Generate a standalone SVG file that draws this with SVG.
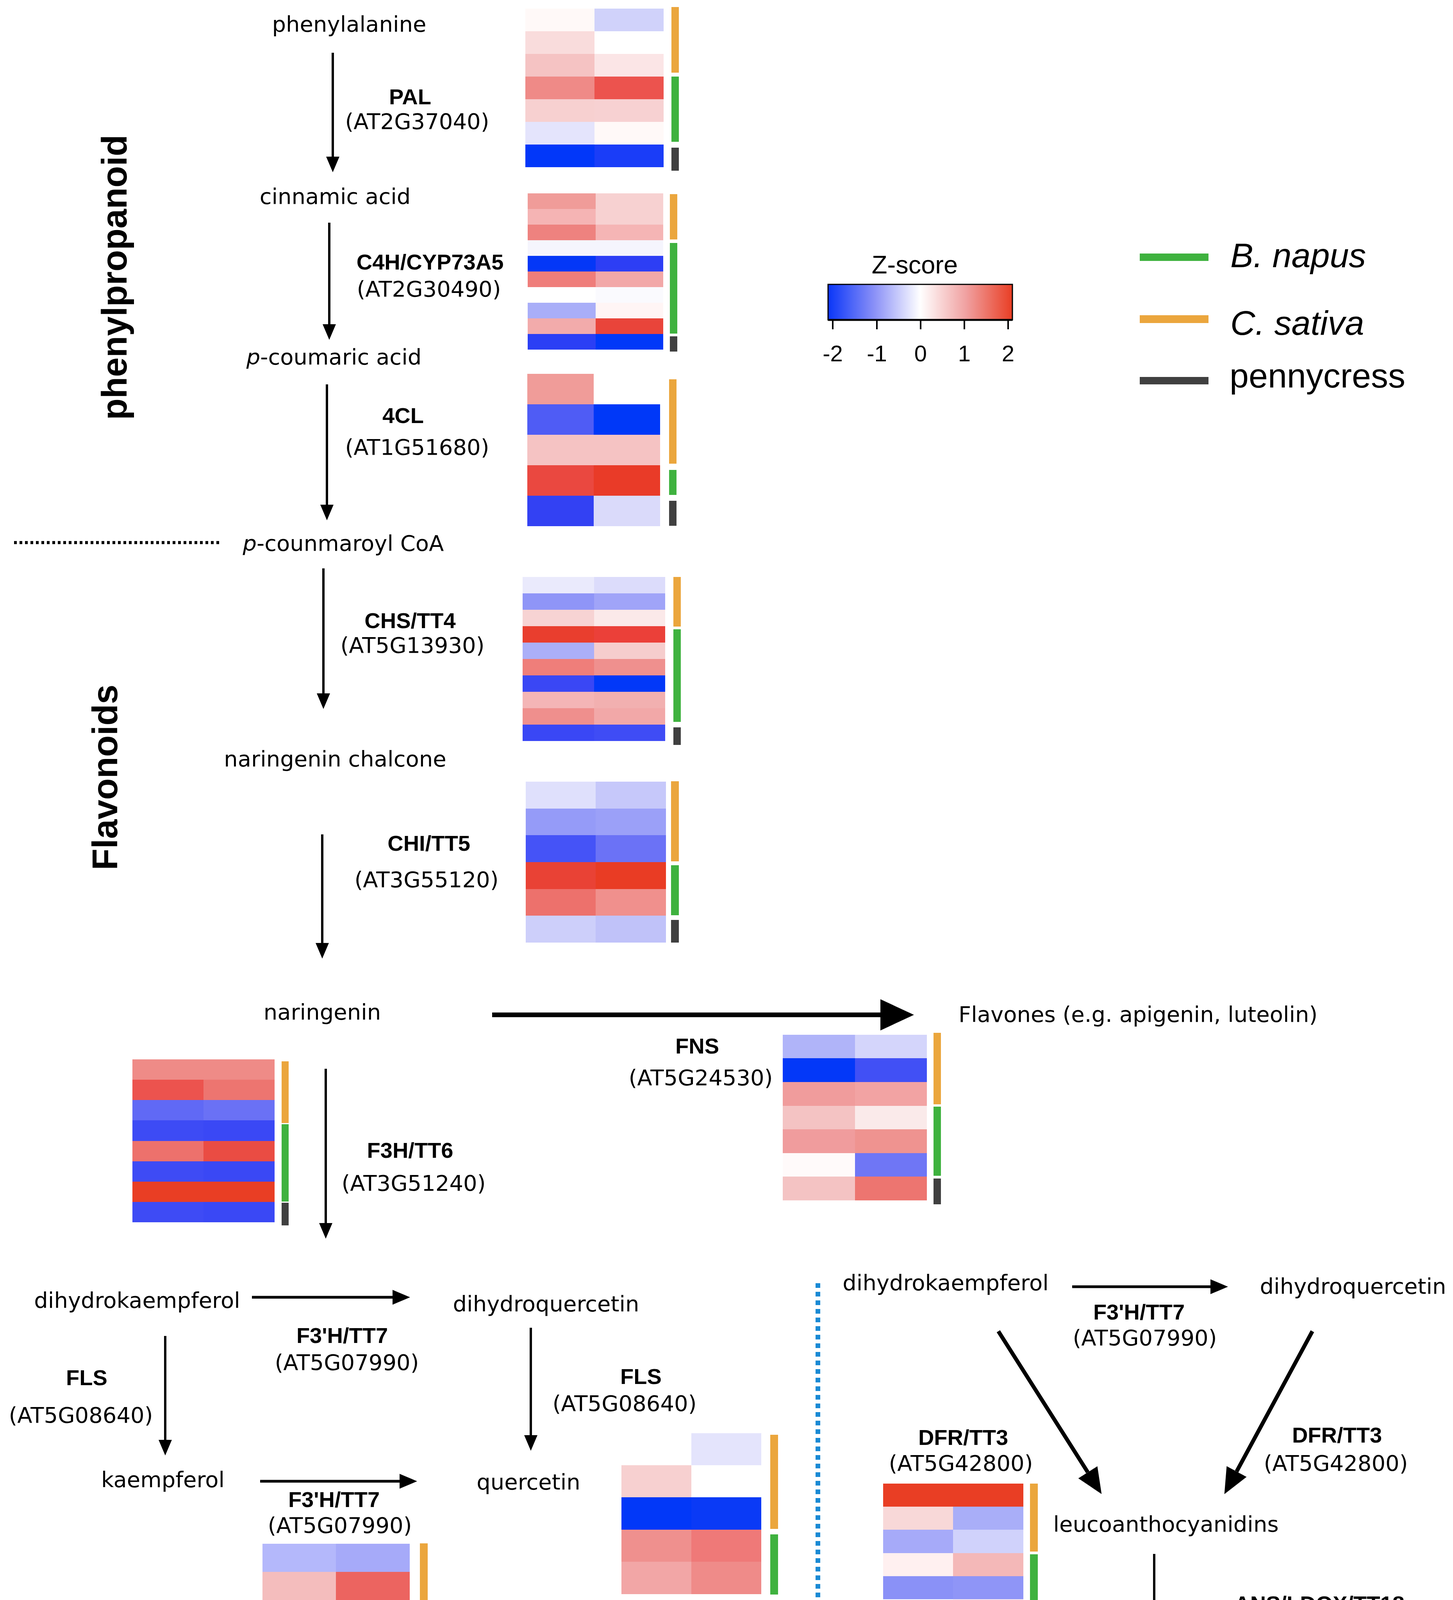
<svg xmlns="http://www.w3.org/2000/svg" width="3720" height="4700" viewBox="0 0 3720 4700">
<style>
.t{font-family:"DejaVu Sans","Liberation Sans",sans-serif;font-size:56px;fill:#000}
.b{font-family:"Liberation Sans",Arial,sans-serif;font-weight:bold;font-size:56px;fill:#000}
.ttl{font-family:"Liberation Sans",Arial,sans-serif;font-weight:bold;font-size:90px;fill:#000}
.lg{font-family:"Liberation Sans",Arial,sans-serif;font-size:88px;fill:#000}
.cb{font-family:"Liberation Sans",Arial,sans-serif;font-size:58px;fill:#000}
.zt{font-family:"Liberation Sans",Arial,sans-serif;font-size:65px;fill:#000}
.thin{stroke:#000;stroke-width:6;fill:none;marker-end:url(#ah)}
.med{stroke:#000;stroke-width:7;fill:none;marker-end:url(#am)}
.thick{stroke:#000;stroke-width:10;fill:none;marker-end:url(#ad)}
.big{stroke:#000;stroke-width:12;fill:none;marker-end:url(#ab)}
.o{fill:#eba63d}.g{fill:#3fb23f}.k{fill:#404040}
</style>
<defs>
<marker id="ah" markerUnits="userSpaceOnUse" viewBox="0 0 40 34" markerWidth="40" markerHeight="34" refX="0" refY="17" orient="auto"><path d="M0,0L40,17L0,34z" fill="#000"/></marker>
<marker id="am" markerUnits="userSpaceOnUse" viewBox="0 0 45 38" markerWidth="45" markerHeight="38" refX="0" refY="19" orient="auto"><path d="M0,0L45,19L0,38z" fill="#000"/></marker>
<marker id="ad" markerUnits="userSpaceOnUse" viewBox="0 0 66 58" markerWidth="66" markerHeight="58" refX="0" refY="29" orient="auto"><path d="M0,0L66,29L0,58z" fill="#000"/></marker>
<marker id="ab" markerUnits="userSpaceOnUse" viewBox="0 0 86 80" markerWidth="86" markerHeight="80" refX="0" refY="40" orient="auto"><path d="M0,0L86,40L0,80z" fill="#000"/></marker>
<linearGradient id="zg" x1="0" y1="0" x2="1" y2="0">
<stop offset="0" stop-color="#0a36f8"/><stop offset="0.25" stop-color="#8a90f7"/><stop offset="0.5" stop-color="#ffffff"/><stop offset="0.75" stop-color="#f0a0a0"/><stop offset="1" stop-color="#e93e24"/>
</linearGradient>
</defs>
<rect width="3720" height="4700" fill="#fff"/>

<g id="titles">
<text class="ttl" transform="translate(324,710) rotate(-90)" text-anchor="middle">phenylpropanoid</text>
<text class="ttl" transform="translate(300,1990) rotate(-90)" text-anchor="middle">Flavonoids</text>
</g>

<g id="legend">
<text class="zt" x="2342" y="700" text-anchor="middle">Z-score</text>
<rect x="2120" y="728" width="472" height="91" fill="url(#zg)" stroke="#000" stroke-width="3"/>
<line x1="2120" y1="819" x2="2592" y2="819" stroke="#000" stroke-width="5"/>
<g stroke="#000" stroke-width="4">
<line x1="2132" y1="819" x2="2132" y2="843"/><line x1="2245" y1="819" x2="2245" y2="843"/><line x1="2357" y1="819" x2="2357" y2="843"/><line x1="2469" y1="819" x2="2469" y2="843"/><line x1="2581" y1="819" x2="2581" y2="843"/>
</g>
<text class="cb" x="2132" y="925" text-anchor="middle">-2</text>
<text class="cb" x="2245" y="925" text-anchor="middle">-1</text>
<text class="cb" x="2357" y="925" text-anchor="middle">0</text>
<text class="cb" x="2469" y="925" text-anchor="middle">1</text>
<text class="cb" x="2581" y="925" text-anchor="middle">2</text>
<rect x="2918" y="649" width="176" height="19" class="g"/>
<rect x="2918" y="807" width="176" height="20" class="o"/>
<rect x="2918" y="965" width="176" height="19" class="k"/>
<text class="lg" x="3150" y="684" font-style="italic">B. napus</text>
<text class="lg" x="3150" y="857" font-style="italic">C. sativa</text>
<text class="lg" x="3148" y="992">pennycress</text>
</g>

<g id="connectors">
<line class="thin" x1="852" y1="135" x2="852" y2="401"/>
<line class="thin" x1="843" y1="570" x2="843" y2="830"/>
<line class="thin" x1="837" y1="984" x2="837" y2="1292"/>
<line class="thin" x1="828" y1="1455" x2="828" y2="1775"/>
<line class="thin" x1="825" y1="2136" x2="825" y2="2414"/>
<line class="thin" x1="834" y1="2736" x2="834" y2="3131"/>
<line class="thin" x1="423" y1="3420" x2="423" y2="3686"/>
<line class="thin" x1="1359" y1="3399" x2="1359" y2="3674"/>
<line class="thin" x1="2955" y1="3978" x2="2955" y2="4214"/>
<line class="med" x1="645" y1="3321" x2="1005" y2="3321"/>
<line class="med" x1="666" y1="3792" x2="1023" y2="3792"/>
<line class="med" x1="2745" y1="3294" x2="3099" y2="3294"/>
<line class="big" x1="1260" y1="2598" x2="2254" y2="2598"/>
<line class="thick" x1="2556" y1="3408" x2="2785" y2="3769"/>
<line class="thick" x1="3360" y1="3408" x2="3166" y2="3767"/>
<line x1="36" y1="1389" x2="561" y2="1389" stroke="#000" stroke-width="8" stroke-dasharray="7 7"/>
<line x1="2094" y1="3285" x2="2094" y2="4686" stroke="#1a8ad4" stroke-width="12" stroke-dasharray="12 10"/>
</g>

<g id="phenylalanine"><text class="t" x="894" y="81" text-anchor="middle">phenylalanine</text></g>
<g id="cinnamic_acid"><text class="t" x="858" y="522" text-anchor="middle">cinnamic acid</text></g>
<g id="p_coumaric_acid"><text class="t" x="855" y="933" text-anchor="middle"><tspan font-style="italic">p</tspan>-coumaric acid</text></g>
<g id="p_counmaroyl_CoA"><text class="t" x="879" y="1410" text-anchor="middle"><tspan font-style="italic">p</tspan>-counmaroyl CoA</text></g>
<g id="naringenin_chalcone"><text class="t" x="858" y="1962" text-anchor="middle">naringenin chalcone</text></g>
<g id="naringenin"><text class="t" x="825" y="2610" text-anchor="middle">naringenin</text></g>
<g id="flavones"><text class="t" x="2454" y="2616">Flavones (e.g. apigenin, luteolin)</text></g>
<g id="dihydrokaempferol_left"><text class="t" x="351" y="3348" text-anchor="middle">dihydrokaempferol</text></g>
<g id="dihydroquercetin_left"><text class="t" x="1398" y="3357" text-anchor="middle">dihydroquercetin</text></g>
<g id="kaempferol"><text class="t" x="417" y="3807" text-anchor="middle">kaempferol</text></g>
<g id="quercetin"><text class="t" x="1353" y="3813" text-anchor="middle">quercetin</text></g>
<g id="dihydrokaempferol_right"><text class="t" x="2421" y="3303" text-anchor="middle">dihydrokaempferol</text></g>
<g id="dihydroquercetin_right"><text class="t" x="3464" y="3312" text-anchor="middle">dihydroquercetin</text></g>
<g id="leucoanthocyanidins"><text class="t" x="2985" y="3921" text-anchor="middle">leucoanthocyanidins</text></g>
<g id="anthocyanidins"><text class="t" x="2985" y="4299" text-anchor="middle">anthocyanidins</text></g>

<g id="PAL">
<text class="b" x="1050" y="267" text-anchor="middle">PAL</text>
<text class="t" x="1068" y="330" text-anchor="middle">(AT2G37040)</text>
<rect x="1345" y="22" width="177" height="58" fill="#fff9f8"/><rect x="1522" y="22" width="177" height="58" fill="#d0d2fa"/>
<rect x="1345" y="80" width="177" height="58" fill="#f9dcdc"/><rect x="1522" y="80" width="177" height="58" fill="#ffffff"/>
<rect x="1345" y="138" width="177" height="58" fill="#f5c3c3"/><rect x="1522" y="138" width="177" height="58" fill="#fbe5e6"/>
<rect x="1345" y="196" width="177" height="58" fill="#ef8a87"/><rect x="1522" y="196" width="177" height="58" fill="#ec534e"/>
<rect x="1345" y="254" width="177" height="58" fill="#f7d0d0"/><rect x="1522" y="254" width="177" height="58" fill="#f7d1d2"/>
<rect x="1345" y="312" width="177" height="58" fill="#e4e4fc"/><rect x="1522" y="312" width="177" height="58" fill="#fff9f8"/>
<rect x="1345" y="370" width="177" height="58" fill="#0237f9"/><rect x="1522" y="370" width="177" height="58" fill="#1a3df8"/>
<rect x="1719" y="18" width="19" height="168" class="o"/><rect x="1719" y="196" width="19" height="167" class="g"/><rect x="1719" y="378" width="19" height="59" class="k"/>
</g>

<g id="C4H">
<text class="b" x="1101" y="690" text-anchor="middle">C4H/CYP73A5</text>
<text class="t" x="1098" y="759" text-anchor="middle">(AT2G30490)</text>
<rect x="1351" y="495" width="174" height="40" fill="#f09c99"/><rect x="1525" y="495" width="173" height="40" fill="#f7d1d1"/>
<rect x="1351" y="535" width="174" height="40" fill="#f5b4b4"/><rect x="1525" y="535" width="173" height="40" fill="#f7d1d1"/>
<rect x="1351" y="575" width="174" height="40" fill="#ee827f"/><rect x="1525" y="575" width="173" height="40" fill="#f5b5b5"/>
<rect x="1351" y="615" width="174" height="40" fill="#f5f5fd"/><rect x="1525" y="615" width="173" height="40" fill="#f5f5fd"/>
<rect x="1351" y="655" width="174" height="40" fill="#0437f7"/><rect x="1525" y="655" width="173" height="40" fill="#2d3ef5"/>
<rect x="1351" y="695" width="174" height="40" fill="#ef7d7a"/><rect x="1525" y="695" width="173" height="40" fill="#f2a8a8"/>
<rect x="1351" y="735" width="174" height="40" fill="#ffffff"/><rect x="1525" y="735" width="173" height="40" fill="#fafafe"/>
<rect x="1351" y="775" width="174" height="40" fill="#a9aef8"/><rect x="1525" y="775" width="173" height="40" fill="#fff5f5"/>
<rect x="1351" y="815" width="174" height="40" fill="#f2abab"/><rect x="1525" y="815" width="173" height="40" fill="#e9443a"/>
<rect x="1351" y="855" width="174" height="40" fill="#2b3ff5"/><rect x="1525" y="855" width="173" height="40" fill="#0238f8"/>
<rect x="1715" y="497" width="19" height="116" class="o"/><rect x="1715" y="622" width="19" height="232" class="g"/><rect x="1715" y="861" width="19" height="39" class="k"/>
</g>

<g id="4CL">
<text class="b" x="1032" y="1083" text-anchor="middle">4CL</text>
<text class="t" x="1068" y="1164" text-anchor="middle">(AT1G51680)</text>
<rect x="1350" y="957" width="170" height="78" fill="#f09c99"/>
<rect x="1350" y="1035" width="170" height="78" fill="#4f5cf5"/><rect x="1520" y="1035" width="170" height="78" fill="#0038f8"/>
<rect x="1350" y="1113" width="170" height="78" fill="#f5c3c3"/><rect x="1520" y="1113" width="170" height="78" fill="#f5c3c3"/>
<rect x="1350" y="1191" width="170" height="78" fill="#ea4840"/><rect x="1520" y="1191" width="170" height="78" fill="#e93b28"/>
<rect x="1350" y="1269" width="170" height="78" fill="#3341f3"/><rect x="1520" y="1269" width="170" height="78" fill="#dadafa"/>
<rect x="1713" y="971" width="19" height="216" class="o"/><rect x="1713" y="1203" width="19" height="64" class="g"/><rect x="1713" y="1282" width="19" height="64" class="k"/>
</g>

<g id="CHS">
<text class="b" x="1050" y="1608" text-anchor="middle">CHS/TT4</text>
<text class="t" x="1056" y="1671" text-anchor="middle">(AT5G13930)</text>
<rect x="1338" y="1477" width="183" height="42" fill="#eaeafc"/><rect x="1521" y="1477" width="182" height="42" fill="#dcdcfb"/>
<rect x="1338" y="1519" width="183" height="42" fill="#8f95f7"/><rect x="1521" y="1519" width="182" height="42" fill="#a0a4f8"/>
<rect x="1338" y="1561" width="183" height="42" fill="#f7d3d3"/><rect x="1521" y="1561" width="182" height="42" fill="#fbe9e9"/>
<rect x="1338" y="1603" width="183" height="42" fill="#e93e2e"/><rect x="1521" y="1603" width="182" height="42" fill="#eb4039"/>
<rect x="1338" y="1645" width="183" height="42" fill="#abaff8"/><rect x="1521" y="1645" width="182" height="42" fill="#f6cdcd"/>
<rect x="1338" y="1687" width="183" height="42" fill="#ef7e7a"/><rect x="1521" y="1687" width="182" height="42" fill="#ef908e"/>
<rect x="1338" y="1729" width="183" height="42" fill="#3a47f5"/><rect x="1521" y="1729" width="182" height="42" fill="#0238f8"/>
<rect x="1338" y="1771" width="183" height="42" fill="#f4b5b6"/><rect x="1521" y="1771" width="182" height="42" fill="#f2b0b0"/>
<rect x="1338" y="1813" width="183" height="42" fill="#ef8f8d"/><rect x="1521" y="1813" width="182" height="42" fill="#f2a8a8"/>
<rect x="1338" y="1855" width="183" height="42" fill="#3a47f5"/><rect x="1521" y="1855" width="182" height="42" fill="#3f4cf5"/>
<rect x="1724" y="1477" width="19" height="127" class="o"/><rect x="1724" y="1611" width="19" height="237" class="g"/><rect x="1724" y="1862" width="19" height="45" class="k"/>
</g>

<g id="CHI">
<text class="b" x="1098" y="2178" text-anchor="middle">CHI/TT5</text>
<text class="t" x="1092" y="2271" text-anchor="middle">(AT3G55120)</text>
<rect x="1346" y="2001" width="179" height="69" fill="#dfe0fc"/><rect x="1525" y="2001" width="180" height="69" fill="#c6c8fa"/>
<rect x="1346" y="2070" width="179" height="68" fill="#959bf8"/><rect x="1525" y="2070" width="180" height="68" fill="#9ba0f8"/>
<rect x="1346" y="2138" width="179" height="69" fill="#4553f7"/><rect x="1525" y="2138" width="180" height="69" fill="#6b72f6"/>
<rect x="1346" y="2207" width="179" height="69" fill="#e94235"/><rect x="1525" y="2207" width="180" height="69" fill="#e93c24"/>
<rect x="1346" y="2276" width="179" height="68" fill="#ed716c"/><rect x="1525" y="2276" width="180" height="68" fill="#f0908d"/>
<rect x="1346" y="2344" width="179" height="69" fill="#cdcffa"/><rect x="1525" y="2344" width="180" height="69" fill="#c0c2f9"/>
<rect x="1718" y="2000" width="20" height="205" class="o"/><rect x="1718" y="2215" width="20" height="128" class="g"/><rect x="1718" y="2355" width="20" height="58" class="k"/>
</g>

<g id="FNS">
<text class="b" x="1785" y="2697" text-anchor="middle">FNS</text>
<text class="t" x="1794" y="2778" text-anchor="middle">(AT5G24530)</text>
<rect x="2004" y="2649" width="185" height="60" fill="#b0b4f9"/><rect x="2189" y="2649" width="184" height="60" fill="#d4d5fb"/>
<rect x="2004" y="2709" width="185" height="61" fill="#0338f8"/><rect x="2189" y="2709" width="184" height="61" fill="#4150f5"/>
<rect x="2004" y="2770" width="185" height="61" fill="#f09c9c"/><rect x="2189" y="2770" width="184" height="61" fill="#f2a3a3"/>
<rect x="2004" y="2831" width="185" height="60" fill="#f4c3c3"/><rect x="2189" y="2831" width="184" height="60" fill="#faeaea"/>
<rect x="2004" y="2891" width="185" height="61" fill="#f09c9d"/><rect x="2189" y="2891" width="184" height="61" fill="#ef9390"/>
<rect x="2004" y="2952" width="185" height="60" fill="#fffafa"/><rect x="2189" y="2952" width="184" height="60" fill="#6f76f5"/>
<rect x="2004" y="3012" width="185" height="61" fill="#f4c3c3"/><rect x="2189" y="3012" width="184" height="61" fill="#ed7570"/>
<rect x="2390" y="2644" width="19" height="183" class="o"/><rect x="2390" y="2833" width="19" height="177" class="g"/><rect x="2390" y="3017" width="19" height="66" class="k"/>
</g>

<g id="F3H">
<text class="b" x="1050" y="2964" text-anchor="middle">F3H/TT6</text>
<text class="t" x="1059" y="3048" text-anchor="middle">(AT3G51240)</text>
<rect x="339" y="2712" width="182" height="52" fill="#ef8b87"/><rect x="521" y="2712" width="182" height="52" fill="#ef8b87"/>
<rect x="339" y="2764" width="182" height="52" fill="#ec534e"/><rect x="521" y="2764" width="182" height="52" fill="#ed7570"/>
<rect x="339" y="2816" width="182" height="52" fill="#6069f5"/><rect x="521" y="2816" width="182" height="52" fill="#6a71f5"/>
<rect x="339" y="2868" width="182" height="53" fill="#3d4bf5"/><rect x="521" y="2868" width="182" height="53" fill="#3a48f5"/>
<rect x="339" y="2921" width="182" height="52" fill="#ed716c"/><rect x="521" y="2921" width="182" height="52" fill="#ea4c43"/>
<rect x="339" y="2973" width="182" height="52" fill="#3e4bf5"/><rect x="521" y="2973" width="182" height="52" fill="#3a48f5"/>
<rect x="339" y="3025" width="182" height="52" fill="#e93e24"/><rect x="521" y="3025" width="182" height="52" fill="#e93e24"/>
<rect x="339" y="3077" width="182" height="52" fill="#3e4bf5"/><rect x="521" y="3077" width="182" height="52" fill="#3a48f5"/>
<rect x="721" y="2717" width="18" height="158" class="o"/><rect x="721" y="2878" width="18" height="198" class="g"/><rect x="721" y="3079" width="18" height="58" class="k"/>
</g>

<g id="F3pH_left">
<text class="b" x="876" y="3438" text-anchor="middle">F3'H/TT7</text>
<text class="t" x="888" y="3507" text-anchor="middle">(AT5G07990)</text>
</g>

<g id="FLS_left">
<text class="b" x="222" y="3546" text-anchor="middle">FLS</text>
<text class="t" x="207" y="3642" text-anchor="middle">(AT5G08640)</text>
</g>

<g id="FLS_right">
<text class="b" x="1641" y="3543" text-anchor="middle">FLS</text>
<text class="t" x="1599" y="3612" text-anchor="middle">(AT5G08640)</text>
<rect x="1770" y="3669" width="179" height="82" fill="#e4e4fc"/>
<rect x="1591" y="3751" width="179" height="82" fill="#f7d0d0"/>
<rect x="1591" y="3833" width="179" height="83" fill="#0238f8"/><rect x="1770" y="3833" width="179" height="83" fill="#0a3af6"/>
<rect x="1591" y="3916" width="179" height="82" fill="#ef908e"/><rect x="1770" y="3916" width="179" height="82" fill="#ef7978"/>
<rect x="1591" y="3998" width="179" height="83" fill="#f2a6a6"/><rect x="1770" y="3998" width="179" height="83" fill="#ef8b89"/>
<rect x="1972" y="3673" width="20" height="241" class="o"/><rect x="1972" y="3928" width="20" height="154" class="g"/>
</g>

<g id="F3pH_lower">
<text class="b" x="855" y="3858" text-anchor="middle">F3'H/TT7</text>
<text class="t" x="870" y="3924" text-anchor="middle">(AT5G07990)</text>
<rect x="672" y="3952" width="188" height="72" fill="#b4b8fb"/><rect x="860" y="3952" width="189" height="72" fill="#a6aaf9"/>
<rect x="672" y="4024" width="188" height="73" fill="#f4bdbd"/><rect x="860" y="4024" width="189" height="73" fill="#ec6460"/>
<rect x="672" y="4097" width="188" height="72" fill="#e93e24"/><rect x="860" y="4097" width="189" height="72" fill="#ec5850"/>
<rect x="672" y="4169" width="188" height="73" fill="#e4e4fc"/><rect x="860" y="4169" width="189" height="73" fill="#ffffff"/>
<rect x="672" y="4242" width="188" height="72" fill="#a6aaf9"/><rect x="860" y="4242" width="189" height="72" fill="#8589f5"/>
<rect x="672" y="4314" width="188" height="72" fill="#7b82f5"/><rect x="860" y="4314" width="189" height="72" fill="#787cf5"/>
<rect x="1075" y="3951" width="20" height="214" class="o"/><rect x="1075" y="4178" width="20" height="135" class="g"/><rect x="1075" y="4323" width="20" height="66" class="k"/>
</g>

<g id="F3pH_right">
<text class="b" x="2916" y="3378" text-anchor="middle">F3'H/TT7</text>
<text class="t" x="2931" y="3444" text-anchor="middle">(AT5G07990)</text>
</g>

<g id="DFR_left">
<text class="b" x="2466" y="3699" text-anchor="middle">DFR/TT3</text>
<text class="t" x="2460" y="3765" text-anchor="middle">(AT5G42800)</text>
<rect x="2261" y="3798" width="179" height="59" fill="#e93e24"/><rect x="2440" y="3798" width="180" height="59" fill="#e93e24"/>
<rect x="2261" y="3857" width="179" height="59" fill="#f8d8d8"/><rect x="2440" y="3857" width="180" height="59" fill="#a9aef8"/>
<rect x="2261" y="3916" width="179" height="60" fill="#a6aaf9"/><rect x="2440" y="3916" width="180" height="60" fill="#d0d2fb"/>
<rect x="2261" y="3976" width="179" height="59" fill="#fff0f0"/><rect x="2440" y="3976" width="180" height="59" fill="#f4b8b8"/>
<rect x="2261" y="4035" width="179" height="59" fill="#8a91f7"/><rect x="2440" y="4035" width="180" height="59" fill="#8f95f7"/>
<rect x="2261" y="4094" width="179" height="59" fill="#ffffff"/><rect x="2440" y="4094" width="180" height="59" fill="#fff0f0"/>
<rect x="2261" y="4153" width="179" height="59" fill="#8a91f7"/><rect x="2440" y="4153" width="180" height="59" fill="#8f95f7"/>
<rect x="2637" y="3798" width="20" height="174" class="o"/><rect x="2637" y="3979" width="20" height="174" class="g"/><rect x="2637" y="4160" width="20" height="55" class="k"/>
</g>

<g id="DFR_right">
<text class="b" x="3423" y="3693" text-anchor="middle">DFR/TT3</text>
<text class="t" x="3420" y="3765" text-anchor="middle">(AT5G42800)</text>
</g>

<g id="ANS">
<text class="b" x="3378" y="4125" text-anchor="middle">ANS/LDOX/TT18</text>
<text class="t" x="3378" y="4194" text-anchor="middle">(AT4G22880)</text>
<rect x="3218" y="4246" width="188" height="54" fill="#9ca1f8"/><rect x="3406" y="4246" width="187" height="54" fill="#8d93f7"/>
<rect x="3218" y="4300" width="188" height="54" fill="#9ca1f8"/><rect x="3406" y="4300" width="187" height="54" fill="#8388f7"/>
<rect x="3218" y="4354" width="188" height="54" fill="#e4e4fc"/><rect x="3406" y="4354" width="187" height="54" fill="#e93e24"/>
<rect x="3218" y="4408" width="188" height="54" fill="#fff0f0"/><rect x="3406" y="4408" width="187" height="54" fill="#fff5f5"/>
<rect x="3218" y="4462" width="188" height="54" fill="#ed716c"/><rect x="3406" y="4462" width="187" height="54" fill="#f4bcbc"/>
<rect x="3218" y="4516" width="188" height="53" fill="#e93e24"/><rect x="3406" y="4516" width="187" height="53" fill="#ef8e8d"/>
<rect x="3218" y="4569" width="188" height="54" fill="#9ca1f8"/><rect x="3406" y="4569" width="187" height="54" fill="#acb0f8"/>
<rect x="3218" y="4623" width="188" height="54" fill="#9ca1f8"/><rect x="3406" y="4623" width="187" height="54" fill="#8388f7"/>
<rect x="3617" y="4245" width="20" height="159" class="o"/><rect x="3617" y="4414" width="20" height="202" class="g"/><rect x="3617" y="4624" width="20" height="57" class="k"/>
</g>
</svg>
